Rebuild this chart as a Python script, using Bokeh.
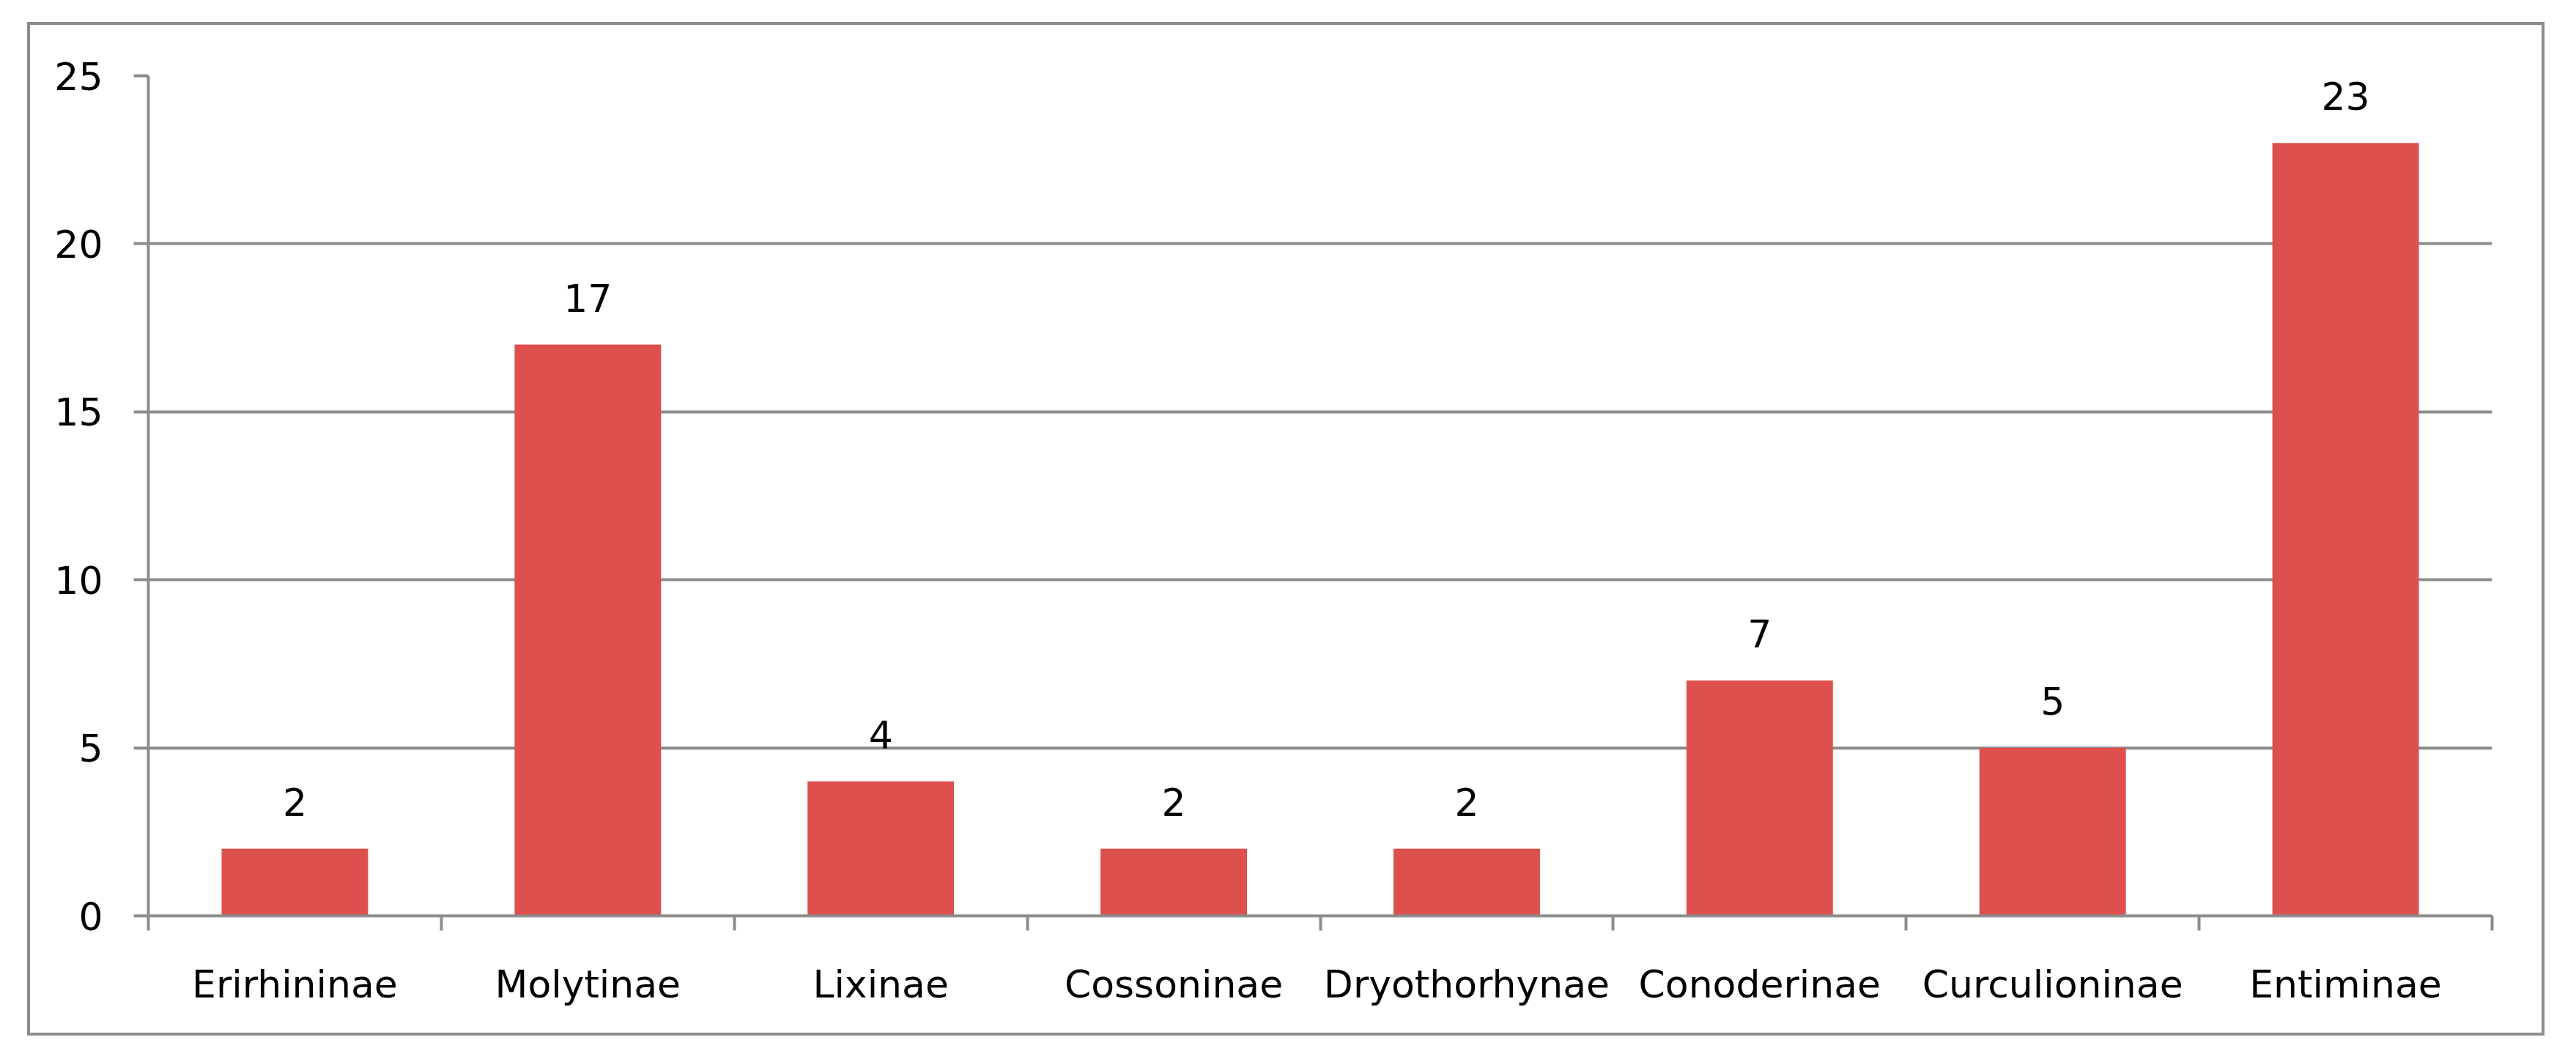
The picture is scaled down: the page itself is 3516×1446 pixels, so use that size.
from bokeh.plotting import figure
from bokeh.models import ColumnDataSource, FixedTicker, Range1d
from bokeh.core.properties import value
from bokeh.embed import file_html
from bokeh.resources import INLINE

categories = ["Erirhininae", "Molytinae", "Lixinae", "Cossoninae",
              "Dryothorhynae", "Conoderinae", "Curculioninae", "Entiminae"]
counts = [2, 17, 4, 2, 2, 7, 5, 23]
y_ticks = [0, 5, 10, 15, 20, 25]

FONT = "DejaVu Sans"
GRAY = "#8C8C8C"
BAR = "#DD504E"

n = len(categories)
xpos = [i + 0.5 for i in range(n)]
src = ColumnDataSource(dict(x=xpos, top=counts, label=[str(c) for c in counts]))

p = figure(width=3428, height=1376, output_backend="svg", toolbar_location=None,
           x_range=Range1d(0, n), y_range=Range1d(0, 25),
           min_border_left=161, min_border_right=76, min_border_top=69, min_border_bottom=168)
p.margin = (30, 0, 0, 37)
p.styles = {"border": f"4px solid {GRAY}", "box-sizing": "content-box"}
p.outline_line_color = None
p.background_fill_color = "white"
p.border_fill_color = "white"

p.vbar(x="x", top="top", bottom=0, width=0.5, source=src, fill_color=BAR, line_color=None)
p.text(x="x", y="top", text="label", source=src, y_offset=-64,
       text_align="center", text_baseline="alphabetic",
       text_font=value(FONT), text_font_size="52px", text_color="#000000")

# x axis: labels at category centres, tick marks at category boundaries
xa = p.xaxis[0]
xa.ticker = FixedTicker(ticks=xpos, minor_ticks=list(range(n + 1)))
xa.major_label_overrides = {x: c for x, c in zip(xpos, categories)}
xa.major_tick_out = 0
xa.major_tick_in = 0
xa.minor_tick_out = 20
xa.minor_tick_in = 0
xa.minor_tick_line_color = GRAY
xa.minor_tick_line_width = 4
xa.axis_line_color = GRAY
xa.axis_line_width = 4
xa.major_label_text_font = FONT
xa.major_label_text_font_size = "52px"
xa.major_label_text_color = "#000000"
xa.major_label_standoff = 43

ya = p.yaxis[0]
ya.ticker = FixedTicker(ticks=y_ticks)
ya.major_tick_out = 20
ya.major_tick_in = 0
ya.minor_tick_line_color = None
ya.major_tick_line_color = GRAY
ya.major_tick_line_width = 4
ya.axis_line_color = GRAY
ya.axis_line_width = 4
ya.major_label_text_font = FONT
ya.major_label_text_font_size = "52px"
ya.major_label_text_color = "#000000"
ya.major_label_standoff = 42

p.xgrid.grid_line_color = None
p.ygrid.ticker = FixedTicker(ticks=y_ticks)
p.ygrid.grid_line_color = GRAY
p.ygrid.grid_line_width = 4

open("out.html", "w").write(file_html(p, INLINE))
